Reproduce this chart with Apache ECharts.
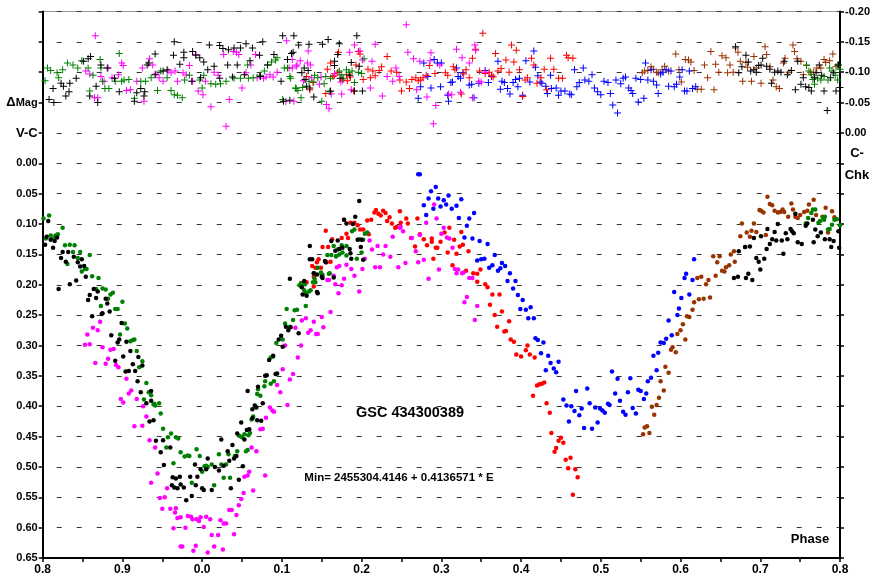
<!DOCTYPE html>
<html>
<head>
<meta charset="utf-8">
<script src="https://cdn.jsdelivr.net/npm/echarts/dist/echarts.min.js"></script>
<style>html,body{margin:0;padding:0;background:#fff;}#chart{width:877px;height:576px;}</style>
</head>
<body>
<div id="chart"></div>
<script>
// ---- Axis ticks ----
const xTicks = [0.8, 0.9, 0.0, 0.1, 0.2, 0.3, 0.4, 0.5, 0.6, 0.7, 0.8];
const leftTicks = ['', '', '', 'ΔMag', 'V-C', '0.00', '0.05', '0.10', '0.15', '0.20', '0.25', '0.30', '0.35', '0.40', '0.45', '0.50', '0.55', '0.60', '0.65'];
const rightTicks = ['-0.20', '-0.15', '-0.10', '-0.05', '0.00'];
const seriesColors = ['#000000', '#008000', '#ff00ff', '#ff0000', '#0000ff', '#993300'];

// ---- V-C differential magnitudes [phase, mag] ----
const vcBlack = [
[-0.193,0.095],[-0.195,0.121],[-0.197,0.134],[-0.190,0.126],[-0.185,0.128],[-0.182,0.122],[-0.187,0.139],[-0.175,0.146],[-0.168,0.146],[-0.177,0.156],[-0.171,0.162],[-0.161,0.154],[-0.156,0.163],[-0.151,0.158],[-0.153,0.170],[-0.148,0.169],[-0.146,0.187],[-0.158,0.193],[-0.166,0.199],[-0.180,0.207],[-0.136,0.207],[-0.131,0.211],[-0.141,0.217],[-0.143,0.225],[-0.133,0.222],[-0.121,0.223],[-0.119,0.231],[-0.116,0.244],[-0.125,0.247],[-0.126,0.248],[-0.138,0.252],[-0.101,0.263],[-0.114,0.283],[-0.104,0.290],[-0.106,0.295],[-0.095,0.294],[-0.090,0.309],[-0.099,0.318],[-0.109,0.325],[-0.080,0.319],[-0.075,0.333],[-0.087,0.331],[-0.092,0.342],[-0.096,0.343],[-0.084,0.342],[-0.081,0.359],[-0.077,0.377],[-0.064,0.375],[-0.070,0.395],[-0.064,0.391],
[-0.066,0.425],[-0.061,0.423],[-0.058,0.457],[-0.049,0.456],[-0.052,0.476],[-0.040,0.468],[-0.048,0.497],[-0.037,0.517],[-0.033,0.519],[-0.038,0.530],[-0.035,0.534],[-0.031,0.535],[-0.027,0.529],[-0.023,0.534],[-0.028,0.516],[-0.020,0.555],[-0.013,0.548],[-0.015,0.516],[-0.009,0.496],[-0.006,0.516],[-0.008,0.530],[-0.002,0.504],[0.000,0.535],[0.002,0.538],[0.007,0.486],[0.005,0.504],[0.012,0.538],[0.016,0.500],[0.021,0.506],[0.024,0.455],[0.027,0.498],[0.032,0.474],[0.034,0.490],[0.036,0.535],[0.038,0.464],[0.040,0.486],[0.043,0.482],[0.046,0.521],[0.049,0.427],[0.044,0.445],[0.051,0.499],[0.053,0.455],[0.056,0.439],[0.059,0.438],[0.057,0.375],[0.063,0.405],[0.066,0.399],[0.063,0.420],[0.068,0.402],[0.069,0.423],[0.070,0.368],[0.074,0.424],[0.076,0.395],
[0.110,0.190],[0.121,0.280],[0.111,0.270],[0.105,0.269],[0.108,0.275],[0.099,0.284],[0.096,0.290],[0.101,0.302],[0.089,0.317],[0.084,0.324],[0.081,0.349],[0.079,0.350],[0.092,0.347],[0.094,0.346],
[0.197,0.062],[0.192,0.088],[0.189,0.100],[0.178,0.093],[0.181,0.099],[0.170,0.127],[0.162,0.128],[0.167,0.144],[0.172,0.141],[0.176,0.139],[0.185,0.141],[0.186,0.148],[0.187,0.157],[0.195,0.126],[0.200,0.126],[0.202,0.159],[0.199,0.138],[0.135,0.136],[0.138,0.158],[0.135,0.158],[0.140,0.181],[0.144,0.183],[0.150,0.187],[0.154,0.161],[0.155,0.163],[0.151,0.189],[0.125,0.204],[0.128,0.194],[0.126,0.216],[0.131,0.218],[0.144,0.212],[0.145,0.214],[0.165,0.188],
[0.744,0.083],[0.757,0.103],[0.759,0.099],[0.766,0.093],[0.769,0.109],[0.776,0.114],[0.772,0.120],[0.767,0.130],[0.781,0.125],[0.787,0.125],[0.792,0.128],[0.789,0.138],[0.799,0.139],[0.798,0.112],[0.722,0.100],[0.709,0.108],[0.718,0.113],[0.715,0.125],[0.720,0.127],[0.712,0.133],[0.708,0.141],[0.727,0.127],[0.734,0.125],[0.732,0.115],[0.738,0.108],[0.740,0.112],[0.742,0.115],[0.747,0.130],[0.752,0.133],[0.729,0.149],[0.701,0.120],[0.692,0.123],[0.687,0.137],[0.681,0.138],[0.673,0.145],[0.695,0.156],[0.698,0.162],[0.700,0.175],[0.705,0.157],[0.685,0.182],[0.682,0.189],[0.690,0.192],[0.672,0.187],[0.667,0.189]
];
const vcGreen = [
[-0.199,0.091],[-0.192,0.086],[-0.175,0.106],[-0.196,0.124],[-0.190,0.119],[-0.187,0.124],[-0.184,0.119],[-0.181,0.117],[-0.172,0.135],[-0.166,0.134],[-0.160,0.135],[-0.162,0.146],[-0.156,0.156],[-0.153,0.146],[-0.141,0.151],[-0.169,0.166],[-0.151,0.178],[-0.147,0.174],[-0.145,0.174],[-0.138,0.186],[-0.130,0.189],[-0.133,0.207],[-0.125,0.206],[-0.121,0.208],[-0.115,0.216],[-0.112,0.213],[-0.118,0.223],[-0.100,0.228],[-0.127,0.235],[-0.109,0.240],[-0.106,0.240],[-0.097,0.264],[-0.094,0.272],[-0.103,0.282],[-0.090,0.293],[-0.087,0.291],[-0.085,0.290],[-0.082,0.309],[-0.075,0.326],[-0.079,0.336],[-0.070,0.362],[-0.067,0.377],[-0.064,0.382],[-0.073,0.389],[-0.054,0.395],[-0.060,0.396],
[-0.061,0.397],[-0.059,0.399],[-0.052,0.412],[-0.049,0.437],[-0.045,0.468],[-0.039,0.445],[-0.043,0.451],[-0.033,0.451],[-0.030,0.453],[-0.036,0.494],[-0.027,0.476],[-0.022,0.483],[-0.018,0.481],[-0.016,0.482],[-0.013,0.526],[-0.007,0.471],[-0.003,0.482],[0.000,0.508],[0.003,0.499],[0.005,0.498],[0.007,0.500],[0.012,0.496],[0.015,0.530],[0.021,0.479],[0.024,0.496],[0.027,0.518],[0.030,0.496],[0.035,0.518],[0.033,0.479],[0.041,0.482],[0.044,0.474],[0.047,0.449],[0.050,0.451],[0.057,0.472],[0.055,0.474],[0.053,0.446],[0.058,0.448],[0.060,0.444],[0.062,0.422],[0.064,0.417],[0.069,0.380],[0.073,0.383],[0.070,0.372],[0.078,0.367],[0.079,0.359],[0.086,0.363],[0.090,0.359],
[0.157,0.151],[0.162,0.151],[0.168,0.153],[0.145,0.172],[0.140,0.181],[0.160,0.181],[0.150,0.183],[0.142,0.196],[0.124,0.198],[0.122,0.201],[0.128,0.209],[0.136,0.209],[0.130,0.214],[0.106,0.240],[0.119,0.241],[0.116,0.242],[0.130,0.235],[0.104,0.264],[0.110,0.269],[0.114,0.258],[0.101,0.290],[0.093,0.296],[0.086,0.320],[0.089,0.318],
[0.188,0.112],[0.191,0.109],[0.197,0.125],[0.202,0.126],[0.204,0.116],[0.207,0.114],[0.200,0.147],[0.194,0.157],[0.181,0.152],[0.181,0.136],[0.175,0.135],[0.176,0.147],[0.172,0.150],[0.168,0.153],[0.165,0.136],[0.170,0.142],[0.149,0.180],[0.151,0.184],[0.159,0.182],[0.141,0.190],[0.139,0.196],[0.134,0.211],[0.129,0.199],
[0.757,0.099],[0.760,0.090],[0.764,0.082],[0.766,0.076],[0.769,0.076],[0.773,0.098],[0.775,0.095],[0.779,0.089],[0.781,0.088],[0.780,0.093],[0.785,0.109],[0.787,0.108],[0.790,0.101],[0.793,0.093],[0.796,0.092],[0.800,0.102]
];
const vcMagenta = [
[-0.128,0.261],[-0.137,0.271],[-0.131,0.275],[-0.144,0.282],[-0.147,0.299],[-0.141,0.298],[-0.125,0.303],[-0.115,0.307],[-0.111,0.306],[-0.118,0.322],[-0.134,0.329],[-0.121,0.330],[-0.108,0.332],[-0.105,0.336],[-0.095,0.355],[-0.089,0.374],[-0.092,0.379],[-0.082,0.388],[-0.102,0.388],[-0.099,0.394],
[-0.085,0.433],[-0.074,0.400],[-0.075,0.432],[-0.070,0.417],[-0.066,0.456],[-0.059,0.468],[-0.056,0.511],[-0.064,0.526],[-0.053,0.551],[-0.047,0.550],[-0.050,0.569],[-0.044,0.535],[-0.040,0.569],[-0.034,0.575],[-0.033,0.568],[-0.036,0.601],[-0.031,0.584],[-0.027,0.583],[-0.021,0.600],[-0.018,0.581],[-0.014,0.582],[-0.012,0.586],[-0.007,0.586],[-0.004,0.589],[-0.002,0.583],[0.002,0.599],[0.005,0.582],[0.010,0.586],[0.012,0.612],[0.015,0.631],[0.020,0.612],[0.023,0.588],[0.026,0.636],[0.027,0.593],[0.030,0.593],[0.034,0.571],[0.037,0.571],[0.040,0.611],[0.043,0.579],[0.046,0.563],[0.049,0.553],[0.052,0.543],[0.053,0.516],[0.057,0.514],[0.059,0.508],[0.062,0.468],[0.064,0.539],[0.068,0.474],[0.073,0.438],[0.076,0.437],[0.079,0.514],[0.080,0.419],[0.085,0.402],[0.088,0.407],[0.090,0.409],[0.098,0.377],[0.107,0.398],[0.110,0.356],
[-0.027,0.631],[-0.025,0.631],[-0.011,0.638],[-0.008,0.630],[0.007,0.641],
[0.172,0.169],[0.157,0.192],[0.159,0.192],[0.167,0.199],[0.161,0.245],[0.150,0.253],[0.140,0.261],[0.130,0.255],[0.125,0.259],[0.136,0.275],[0.133,0.279],[0.143,0.281],[0.145,0.281],[0.152,0.270],[0.117,0.271],[0.124,0.300],[0.104,0.300],[0.120,0.320],[0.101,0.339],[0.114,0.347],[0.094,0.365],
[0.291,0.068],[0.281,0.098],[0.294,0.091],[0.303,0.106],[0.300,0.116],[0.307,0.122],[0.310,0.124],[0.314,0.139],[0.326,0.181],[0.328,0.180],[0.321,0.175],[0.317,0.174],[0.319,0.181],[0.335,0.189],[0.339,0.189],[0.332,0.220],[0.329,0.229],[0.345,0.235],[0.342,0.258],[0.297,0.175],[0.284,0.190],[0.278,0.159],[0.271,0.163],[0.268,0.145],[0.273,0.118],[0.263,0.123],[0.252,0.112],[0.249,0.105],[0.248,0.106],[0.239,0.121],[0.255,0.164],[0.246,0.171],[0.236,0.154],[0.230,0.136],[0.227,0.150],[0.220,0.136],[0.223,0.171],[0.217,0.171],[0.213,0.142],[0.210,0.127],[0.204,0.157],[0.201,0.174],[0.197,0.211],[0.191,0.185],[0.187,0.174],[0.181,0.167],[0.178,0.190],[0.175,0.201],[0.171,0.214],[0.169,0.171],[0.165,0.185]
];
const vcRed = [
[0.155,0.111],[0.151,0.138],[0.158,0.138],[0.163,0.125],[0.161,0.162],[0.156,0.163],[0.146,0.158],[0.144,0.163],[0.138,0.169],[0.142,0.172],[0.149,0.172],[0.131,0.196],[0.140,0.203],[0.124,0.197],[0.140,0.187],
[0.175,0.123],[0.181,0.116],[0.178,0.093],[0.183,0.123],[0.186,0.098],[0.191,0.098],[0.195,0.102],[0.198,0.109],[0.202,0.109],[0.209,0.117],[0.207,0.094],[0.212,0.093],[0.216,0.081],[0.218,0.077],[0.221,0.083],[0.224,0.086],[0.227,0.078],[0.230,0.082],[0.235,0.089],[0.232,0.095],[0.238,0.099],[0.242,0.106],[0.244,0.105],[0.248,0.079],[0.249,0.098],[0.256,0.091],[0.258,0.099],[0.262,0.123],[0.270,0.091],[0.267,0.137],[0.273,0.117],[0.278,0.125],[0.282,0.135],[0.288,0.124],[0.288,0.129],[0.293,0.139],[0.295,0.139],[0.290,0.157],[0.299,0.129],[0.304,0.114],[0.310,0.106],[0.308,0.147],[0.316,0.126],[0.319,0.149],[0.323,0.137],[0.314,0.168],[0.325,0.113],[0.327,0.134],[0.331,0.177],[0.334,0.145],[0.340,0.181],[0.345,0.182],[0.349,0.175],[0.345,0.195],[0.355,0.199],[0.358,0.204],[0.364,0.216],[0.373,0.216],[0.361,0.233],[0.367,0.250],[0.376,0.244],[0.385,0.260],[0.370,0.269],[0.379,0.277],[0.381,0.276],[0.387,0.290],[0.391,0.294],[0.394,0.315],[0.400,0.318],[0.408,0.300],[0.411,0.315],[0.406,0.308],[0.417,0.320],[0.420,0.366],[0.423,0.364],[0.426,0.363],[0.429,0.361],
[0.415,0.383],[0.432,0.395],[0.436,0.411],[0.438,0.444],[0.447,0.457],[0.450,0.452],[0.453,0.460],[0.444,0.469],[0.442,0.475],[0.456,0.488],[0.462,0.485],[0.459,0.502],[0.468,0.504],[0.471,0.517],[0.465,0.546]
];
const vcBlue = [
[0.271,0.018],[0.273,0.018],[0.278,0.069],[0.281,0.085],[0.284,0.058],[0.287,0.046],[0.293,0.039],[0.290,0.075],[0.296,0.058],[0.299,0.071],[0.303,0.061],[0.306,0.068],[0.309,0.053],[0.313,0.075],[0.319,0.070],[0.322,0.090],[0.325,0.059],[0.329,0.122],[0.332,0.103],[0.335,0.091],[0.339,0.124],[0.341,0.082],[0.345,0.160],[0.348,0.128],[0.350,0.158],[0.354,0.157],[0.358,0.133],[0.360,0.172],[0.364,0.168],[0.367,0.151],[0.371,0.177],[0.374,0.173],[0.376,0.164],[0.380,0.169],[0.383,0.194],[0.386,0.181],[0.390,0.206],[0.393,0.194],[0.396,0.217],[0.399,0.240],[0.402,0.225],[0.406,0.241],[0.409,0.255],[0.412,0.237],[0.416,0.255],[0.418,0.288],[0.421,0.291],[0.425,0.313],[0.428,0.295],[0.431,0.341],[0.434,0.317],[0.437,0.329],[0.441,0.338],[0.444,0.344],[0.447,0.327],[0.483,0.371],
[0.453,0.389],[0.457,0.399],[0.460,0.425],[0.463,0.400],[0.467,0.408],[0.469,0.375],[0.473,0.415],[0.476,0.404],[0.479,0.436],[0.486,0.395],[0.489,0.437],[0.493,0.402],[0.496,0.427],[0.499,0.404],[0.502,0.407],[0.505,0.411],[0.509,0.396],[0.511,0.398],[0.514,0.343],[0.518,0.379],[0.521,0.355],[0.524,0.391],[0.528,0.409],[0.531,0.414],[0.534,0.377],[0.537,0.354],[0.540,0.403],[0.544,0.412],[0.547,0.373],[0.550,0.375],[0.554,0.388],[0.557,0.379],[0.559,0.359],[0.563,0.353],[0.566,0.317],[0.570,0.341],[0.572,0.312],[0.575,0.295],[0.579,0.296],[0.582,0.289],[0.589,0.283],[0.585,0.259],[0.596,0.250],[0.598,0.239],[0.592,0.212],[0.601,0.222],[0.605,0.189],[0.607,0.182],[0.611,0.216],[0.615,0.192],[0.617,0.158]
];
const vcBrown = [
[0.675,0.120],[0.667,0.145],[0.663,0.150],[0.668,0.162],[0.641,0.153],[0.649,0.153],[0.646,0.163],[0.652,0.177],[0.655,0.178],[0.657,0.171],[0.661,0.168],[0.644,0.185],[0.635,0.192],[0.632,0.199],[0.626,0.187],[0.621,0.189],[0.637,0.221],[0.629,0.223],[0.623,0.224],[0.617,0.229],[0.615,0.241],[0.611,0.253],[0.608,0.252],[0.603,0.265],[0.600,0.275],[0.596,0.281],[0.606,0.290],[0.590,0.303],[0.588,0.307],[0.594,0.311],[0.581,0.335],[0.585,0.345],[0.575,0.359],[0.579,0.374],[0.573,0.386],[0.570,0.398],[0.564,0.401],[0.567,0.414],[0.558,0.433],[0.555,0.435],[0.561,0.444],[0.553,0.446],
[0.709,0.055],[0.712,0.067],[0.715,0.069],[0.718,0.078],[0.722,0.081],[0.725,0.080],[0.728,0.076],[0.730,0.080],[0.735,0.088],[0.739,0.066],[0.741,0.076],[0.744,0.088],[0.747,0.090],[0.750,0.085],[0.755,0.080],[0.759,0.078],[0.761,0.068],[0.767,0.060],[0.770,0.085],[0.778,0.088],[0.782,0.073],[0.785,0.114],[0.790,0.079],[0.793,0.089],[0.699,0.077],[0.701,0.078],[0.704,0.081],[0.692,0.099],[0.689,0.111],[0.695,0.113],[0.683,0.114],[0.687,0.121],[0.677,0.099],[0.681,0.138],[0.707,0.118]
];

// ---- C-Chk magnitudes [phase, mag] (right axis) ----
const chkBlack = [
[-0.140,-0.126],[-0.143,-0.122],[-0.149,-0.118],[-0.133,-0.077],[-0.131,-0.050],[-0.141,-0.061],[-0.192,-0.055],[-0.186,-0.050],[-0.187,-0.073],[-0.177,-0.082],[-0.171,-0.061],[-0.167,-0.068],[-0.166,-0.082],[-0.158,-0.090],[-0.174,-0.077],[-0.127,-0.112],[-0.119,-0.107],[-0.110,-0.090],[-0.104,-0.068],[-0.082,-0.066],[-0.077,-0.073],[-0.072,-0.068],[-0.069,-0.112],[-0.059,-0.130],[-0.067,-0.115],[-0.035,-0.150],[-0.036,-0.128],[-0.023,-0.133],[-0.023,-0.124],[-0.028,-0.113],[-0.012,-0.134],[-0.008,-0.128],[-0.003,-0.124],[0.002,-0.117],[0.009,-0.145],[0.022,-0.144],[0.026,-0.139],[0.033,-0.137],[0.040,-0.140],[0.048,-0.140],[0.055,-0.147],[0.063,-0.140],[0.076,-0.150],[0.072,-0.128],[0.060,-0.119],[0.044,-0.112],[0.032,-0.112],[0.015,-0.110],[0.007,-0.104],[-0.044,-0.104],[-0.049,-0.102],[-0.059,-0.096],[0.101,-0.160],[0.115,-0.160],[0.112,-0.131],[0.107,-0.121],[0.099,-0.085],[0.102,-0.052],[0.110,-0.054],[0.090,-0.129],[0.082,-0.112],[0.073,-0.093],[0.053,-0.096],[0.038,-0.092],[0.022,-0.090],[-0.002,-0.091],[-0.013,-0.085],[-0.073,-0.061],[-0.085,-0.052],
[0.114,-0.133],[0.121,-0.145],[0.134,-0.146],[0.128,-0.107],[0.133,-0.103],[0.125,-0.099],[0.129,-0.088],[0.131,-0.077],[0.135,-0.074],[0.140,-0.059],[0.151,-0.146],[0.158,-0.154],[0.172,-0.147],[0.166,-0.118],[0.170,-0.129],[0.161,-0.069],[0.166,-0.111],[0.173,-0.090],[0.185,-0.095],[0.187,-0.116],[0.191,-0.069],[0.194,-0.160],[0.197,-0.110],[0.201,-0.069],
[0.669,-0.142],[0.673,-0.099],[0.677,-0.109],[0.682,-0.128],[0.685,-0.117],[0.688,-0.102],[0.692,-0.104],[0.695,-0.100],[0.698,-0.111],[0.701,-0.112],[0.703,-0.123],[0.708,-0.110],[0.712,-0.105],[0.714,-0.082],[0.718,-0.100],[0.722,-0.102],[0.726,-0.100],[0.730,-0.118],[0.734,-0.096],[0.739,-0.103],[0.744,-0.071],[0.747,-0.118],[0.751,-0.080],[0.754,-0.091],[0.757,-0.076],[0.761,-0.075],[0.764,-0.069],[0.768,-0.091],[0.770,-0.099],[0.774,-0.112],[0.777,-0.095],[0.780,-0.069],[0.784,-0.037],[0.788,-0.091],[0.792,-0.099],[0.795,-0.069],[0.798,-0.112],[0.800,-0.075]
];
const chkGreen = [
[-0.197,-0.086],[-0.194,-0.107],[-0.190,-0.103],[-0.182,-0.099],[-0.180,-0.091],[-0.175,-0.104],[-0.169,-0.115],[-0.162,-0.112],[-0.156,-0.107],[-0.151,-0.119],[-0.143,-0.107],[-0.141,-0.069],[-0.137,-0.095],[-0.128,-0.121],[-0.127,-0.107],[-0.125,-0.085],[-0.122,-0.073],[-0.117,-0.073],[-0.109,-0.085],[-0.104,-0.131],[-0.101,-0.085],[-0.098,-0.087],[-0.092,-0.088],[-0.085,-0.057],[-0.077,-0.085],[-0.071,-0.085],[-0.064,-0.091],[-0.056,-0.070],[-0.052,-0.102],[-0.044,-0.091],[-0.039,-0.070],[-0.035,-0.063],[-0.031,-0.062],[-0.025,-0.058],[-0.022,-0.087],[-0.016,-0.095],[-0.003,-0.087],[0.000,-0.074],[0.002,-0.095],[0.011,-0.081],[0.017,-0.080],[0.023,-0.081],[0.030,-0.085],[0.040,-0.090],[0.048,-0.090],[0.057,-0.112],[0.058,-0.090],[0.064,-0.091],[0.072,-0.095],[0.078,-0.102],[0.082,-0.112],[0.087,-0.117],[0.092,-0.120],[0.094,-0.124],[0.103,-0.107],[0.107,-0.107],[0.111,-0.090],[0.117,-0.074],[0.101,-0.055],
[0.110,-0.093],[0.118,-0.073],[0.120,-0.070],[0.124,-0.058],[0.126,-0.075],[0.134,-0.085],[0.140,-0.084],[0.141,-0.095],[0.145,-0.091],[0.150,-0.052],[0.153,-0.081],[0.155,-0.093],[0.161,-0.090],[0.160,-0.068],[0.172,-0.102],[0.175,-0.096],[0.177,-0.090],[0.181,-0.104],[0.184,-0.100],[0.188,-0.102],[0.191,-0.083],[0.196,-0.100],[0.200,-0.098],[0.203,-0.122],
[0.758,-0.112],[0.761,-0.102],[0.764,-0.096],[0.766,-0.088],[0.768,-0.080],[0.772,-0.090],[0.776,-0.087],[0.780,-0.093],[0.785,-0.087],[0.787,-0.107],[0.790,-0.102],[0.794,-0.095],[0.797,-0.087],[0.800,-0.105],[0.797,-0.112]
];
const chkMagenta = [
[-0.134,-0.160],[-0.146,-0.102],[-0.141,-0.097],[-0.135,-0.058],[-0.131,-0.058],[-0.127,-0.093],[-0.123,-0.085],[-0.118,-0.107],[-0.113,-0.091],[-0.105,-0.096],[-0.101,-0.115],[-0.099,-0.111],[-0.095,-0.070],[-0.090,-0.071],[-0.082,-0.085],[-0.075,-0.107],[-0.073,-0.052],[-0.066,-0.122],[-0.062,-0.112],[-0.058,-0.097],[-0.054,-0.091],[-0.049,-0.085],[-0.043,-0.102],[-0.039,-0.099],[-0.034,-0.102],[-0.031,-0.085],[-0.024,-0.099],[-0.020,-0.096],[-0.016,-0.111],[-0.012,-0.085],[-0.008,-0.129],[-0.005,-0.069],[0.001,-0.063],[0.004,-0.085],[0.011,-0.043],[0.015,-0.100],[0.020,-0.095],[0.027,-0.129],[0.034,-0.055],[0.030,-0.011],[0.039,-0.134],[0.043,-0.133],[0.046,-0.129],[0.050,-0.074],[0.055,-0.099],[0.061,-0.112],[0.067,-0.129],[0.069,-0.091],[0.073,-0.093],[0.077,-0.090],[0.080,-0.092],[0.085,-0.096],[0.089,-0.092],[0.094,-0.100],[0.106,-0.152],[0.109,-0.107],[0.113,-0.107],[0.118,-0.110],[0.105,-0.052],[0.115,-0.052],
[0.113,-0.121],[0.119,-0.112],[0.123,-0.119],[0.127,-0.086],[0.133,-0.135],[0.132,-0.115],[0.136,-0.112],[0.137,-0.091],[0.149,-0.092],[0.147,-0.080],[0.156,-0.047],[0.159,-0.040],[0.162,-0.064],[0.166,-0.098],[0.174,-0.084],[0.175,-0.064],[0.185,-0.133],[0.187,-0.071],[0.191,-0.145],[0.198,-0.135],[0.201,-0.120],[0.211,-0.074],[0.213,-0.118],[0.217,-0.146],[0.226,-0.061],[0.232,-0.093],[0.239,-0.085],[0.243,-0.107],[0.247,-0.093],[0.256,-0.178],[0.258,-0.133],[0.265,-0.122],[0.269,-0.071],[0.273,-0.118],[0.282,-0.059],[0.287,-0.132],[0.286,-0.119],[0.293,-0.045],[0.290,-0.015],[0.298,-0.112],[0.309,-0.064],[0.313,-0.063],[0.319,-0.138],[0.324,-0.067],[0.326,-0.124],[0.335,-0.115],[0.339,-0.058],[0.342,-0.145],[0.343,-0.136],[0.347,-0.085],[0.350,-0.084],[0.355,-0.100]
];
const chkRed = [
[0.131,-0.093],[0.135,-0.071],[0.139,-0.083],[0.155,-0.065],[0.157,-0.105],[0.161,-0.115],[0.164,-0.093],[0.166,-0.095],[0.170,-0.100],[0.171,-0.133],[0.176,-0.087],[0.181,-0.096],[0.182,-0.086],[0.186,-0.092],[0.190,-0.069],[0.193,-0.112],[0.196,-0.134],[0.198,-0.130],[0.202,-0.088],[0.208,-0.105],[0.211,-0.091],[0.214,-0.102],[0.217,-0.094],[0.222,-0.103],[0.225,-0.109],[0.232,-0.126],[0.237,-0.102],[0.244,-0.100],[0.248,-0.087],[0.250,-0.069],[0.256,-0.084],[0.260,-0.073],[0.263,-0.088],[0.268,-0.091],[0.271,-0.086],[0.274,-0.087],[0.277,-0.091],[0.281,-0.095],[0.285,-0.111],[0.292,-0.098],[0.305,-0.099],[0.308,-0.095],[0.315,-0.109],[0.317,-0.104],[0.325,-0.064],[0.328,-0.097],[0.331,-0.104],[0.335,-0.091],[0.339,-0.123],[0.343,-0.138],[0.348,-0.102],[0.352,-0.164],[0.355,-0.098],[0.360,-0.100],[0.363,-0.095],[0.365,-0.092],[0.368,-0.131],[0.371,-0.102],[0.375,-0.106],[0.381,-0.120],[0.385,-0.100],[0.388,-0.145],[0.391,-0.117],[0.394,-0.136],[0.398,-0.104],[0.402,-0.060],[0.405,-0.087],[0.408,-0.091],[0.413,-0.123],[0.416,-0.112],[0.420,-0.082],[0.425,-0.091],[0.429,-0.105],[0.432,-0.071],[0.437,-0.123],[0.441,-0.105],[0.447,-0.090],[0.452,-0.090],[0.457,-0.128],[0.459,-0.124],[0.465,-0.123]
];
const chkBlue = [
[0.271,-0.057],[0.274,-0.076],[0.278,-0.115],[0.283,-0.093],[0.287,-0.074],[0.291,-0.121],[0.295,-0.115],[0.299,-0.076],[0.300,-0.115],[0.308,-0.062],[0.309,-0.052],[0.312,-0.083],[0.314,-0.084],[0.319,-0.107],[0.321,-0.093],[0.324,-0.090],[0.327,-0.099],[0.335,-0.079],[0.338,-0.080],[0.341,-0.058],[0.347,-0.082],[0.355,-0.103],[0.359,-0.083],[0.363,-0.093],[0.371,-0.118],[0.374,-0.072],[0.376,-0.085],[0.379,-0.083],[0.383,-0.073],[0.386,-0.064],[0.390,-0.083],[0.393,-0.088],[0.396,-0.076],[0.398,-0.090],[0.402,-0.062],[0.406,-0.119],[0.411,-0.084],[0.416,-0.135],[0.418,-0.108],[0.421,-0.094],[0.424,-0.084],[0.426,-0.082],[0.431,-0.077],[0.433,-0.065],[0.437,-0.095],[0.438,-0.073],[0.444,-0.074],[0.447,-0.062],[0.450,-0.069],[0.455,-0.069],[0.461,-0.064],[0.463,-0.063],[0.467,-0.104],[0.470,-0.076],[0.473,-0.083],
[0.478,-0.107],[0.480,-0.087],[0.485,-0.085],[0.489,-0.096],[0.492,-0.074],[0.496,-0.068],[0.500,-0.063],[0.504,-0.085],[0.509,-0.083],[0.512,-0.065],[0.515,-0.046],[0.519,-0.087],[0.521,-0.033],[0.525,-0.081],[0.528,-0.090],[0.531,-0.092],[0.535,-0.074],[0.538,-0.070],[0.540,-0.065],[0.544,-0.090],[0.547,-0.051],[0.550,-0.088],[0.554,-0.057],[0.556,-0.115],[0.559,-0.087],[0.563,-0.104],[0.566,-0.085],[0.570,-0.079],[0.572,-0.065],[0.575,-0.097],[0.578,-0.100],[0.582,-0.104],[0.585,-0.077],[0.588,-0.102],[0.592,-0.076],[0.595,-0.080],[0.599,-0.092],[0.602,-0.104],[0.605,-0.069],[0.608,-0.069],[0.611,-0.102],[0.615,-0.073],[0.619,-0.076]
];
const chkBrown = [
[0.552,-0.099],[0.555,-0.102],[0.559,-0.103],[0.563,-0.109],[0.566,-0.105],[0.570,-0.100],[0.572,-0.099],[0.577,-0.104],[0.580,-0.110],[0.585,-0.102],[0.594,-0.130],[0.598,-0.104],[0.601,-0.084],[0.606,-0.121],[0.610,-0.120],[0.613,-0.117],[0.617,-0.103],[0.621,-0.072],[0.626,-0.072],[0.630,-0.112],[0.634,-0.091],[0.638,-0.134],[0.642,-0.071],[0.644,-0.113],[0.648,-0.100],[0.652,-0.127],[0.657,-0.124],[0.659,-0.099],[0.662,-0.112],[0.666,-0.100],[0.669,-0.140],[0.672,-0.133],[0.675,-0.118],[0.678,-0.085],[0.682,-0.116],[0.684,-0.108],[0.689,-0.085],[0.692,-0.126],[0.695,-0.107],[0.701,-0.082],[0.706,-0.142],[0.708,-0.129],[0.712,-0.109],[0.716,-0.087],[0.720,-0.076],[0.724,-0.073],[0.729,-0.115],[0.731,-0.123],[0.736,-0.100],[0.741,-0.145],[0.743,-0.134],[0.746,-0.122],[0.751,-0.118],[0.754,-0.096],[0.758,-0.111],[0.763,-0.100],[0.767,-0.100],[0.771,-0.107],[0.776,-0.107],[0.780,-0.121],[0.782,-0.116],[0.787,-0.119],[0.791,-0.130],[0.795,-0.109]
];

const FONT = '"Liberation Sans", Arial, Helvetica, sans-serif';
const crossPath = 'path://M3,0H4V3H7V4H4V7H3V4H0V3H3Z';

const vcSets = [vcBlack, vcGreen, vcMagenta, vcRed, vcBlue, vcBrown];
const chkSets = [chkBlack, chkGreen, chkMagenta, chkRed, chkBlue, chkBrown];
const order = [5, 4, 3, 2, 1, 0];

const series = [];
order.forEach(i => {
  series.push({
    type: 'scatter', yAxisIndex: 1, data: chkSets[i], symbol: crossPath, symbolSize: 7,
    itemStyle: { color: seriesColors[i], opacity: 1 }, silent: true
  });
});
order.forEach(i => {
  series.push({
    type: 'scatter', yAxisIndex: 0, data: vcSets[i], symbol: 'circle', symbolSize: 4.5,
    itemStyle: { color: seriesColors[i], opacity: 1 }, silent: true
  });
});

function xLabel(v) {
  const i = Math.round((v + 0.2) * 10);
  return xTicks[i] !== undefined ? xTicks[i].toFixed(1) : '';
}
function leftLabel(v) {
  const i = Math.round((v + 0.25) * 20);
  const t = leftTicks[i] || '';
  if (t === 'ΔMag') return '{d|Δ}{m|Mag}';
  if (t === 'V-C') return '{v|V-C}';
  return t;
}
function rightLabel(v) {
  const i = Math.round((v + 0.20) * 20);
  return rightTicks[i] || '';
}

const chart = echarts.init(document.getElementById('chart'), null, { renderer: 'canvas' });
chart.setOption({
  animation: false,
  backgroundColor: '#fff',
  grid: { left: 42.7, right: 37, top: 11.5, bottom: 17.5, show: true, borderColor: '#999', borderWidth: 1, backgroundColor: 'transparent' },
  xAxis: {
    type: 'value', min: -0.2, max: 0.8, interval: 0.1,
    axisLine: { show: true, onZero: false, lineStyle: { color: '#000', width: 2 } },
    axisTick: { show: true, length: 4, lineStyle: { color: '#000', width: 1.5 } },
    minorTick: { show: true, splitNumber: 2, length: 4, lineStyle: { color: '#000', width: 1.5 } },
    splitLine: { show: false },
    axisLabel: { formatter: xLabel, color: '#000', fontFamily: FONT, fontWeight: 'bold', fontSize: 12, margin: 6 }
  },
  yAxis: [
    {
      type: 'value', inverse: true, min: -0.25, max: 0.65, interval: 0.05, position: 'left',
      axisLine: { show: true, onZero: false, lineStyle: { color: '#000', width: 2 } },
      axisTick: { show: true, length: 4, lineStyle: { color: '#000', width: 1.5 } },
      splitLine: { show: true, lineStyle: { color: '#333', width: 1, type: [5, 15], dashOffset: 6 } },
      axisLabel: {
        formatter: leftLabel, color: '#000', fontFamily: FONT, fontWeight: 'bold', fontSize: 11, margin: 5,
        rich: {
          d: { fontFamily: FONT, fontWeight: 'bold', fontSize: 13, color: '#000' },
          m: { fontFamily: FONT, fontWeight: 'bold', fontSize: 11, color: '#000' },
          v: { fontFamily: FONT, fontWeight: 'bold', fontSize: 13, color: '#000' }
        }
      }
    },
    {
      type: 'value', inverse: true, min: -0.20, max: 0.70, interval: 0.05, position: 'right',
      axisLine: { show: true, onZero: false, lineStyle: { color: '#000', width: 2 } },
      axisTick: { show: true, length: 4, lineStyle: { color: '#000', width: 1.5 } },
      splitLine: { show: false },
      axisLabel: { formatter: rightLabel, color: '#000', fontFamily: FONT, fontWeight: 'bold', fontSize: 11, margin: 5 }
    }
  ],
  graphic: [
    { type: 'text', x: 410, y: 413, z: 100, style: { text: 'GSC 434300389', align: 'center', verticalAlign: 'middle', fontFamily: FONT, fontWeight: 'bold', fontSize: 14.5, fill: '#000' } },
    { type: 'text', x: 399, y: 478, z: 100, style: { text: 'Min= 2455304.4146 + 0.4136571 * E', align: 'center', verticalAlign: 'middle', fontFamily: FONT, fontWeight: 'bold', fontSize: 11.5, fill: '#000' } },
    { type: 'text', x: 810, y: 539, z: 100, style: { text: 'Phase', align: 'center', verticalAlign: 'middle', fontFamily: FONT, fontWeight: 'bold', fontSize: 13, fill: '#000' } },
    { type: 'text', x: 857, y: 153, z: 100, style: { text: 'C-', align: 'center', verticalAlign: 'middle', fontFamily: FONT, fontWeight: 'bold', fontSize: 13, fill: '#000' } },
    { type: 'text', x: 857, y: 175, z: 100, style: { text: 'Chk', align: 'center', verticalAlign: 'middle', fontFamily: FONT, fontWeight: 'bold', fontSize: 13, fill: '#000' } }
  ],
  series: series
});
</script>
</body>
</html>
